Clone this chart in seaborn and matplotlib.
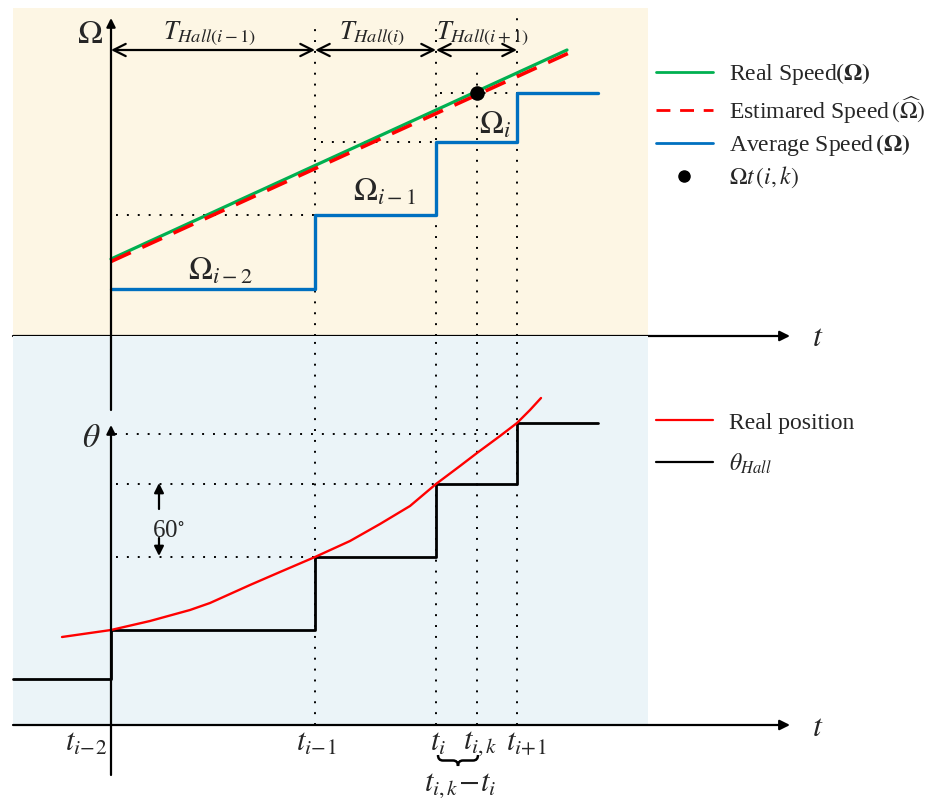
import numpy as np
import pandas as pd
import matplotlib
matplotlib.use("Agg")
import matplotlib.pyplot as plt
import seaborn as sns
from matplotlib.patches import Rectangle, PathPatch
from matplotlib.path import Path
from matplotlib.lines import Line2D

# ---------------- data (time in arbitrary units, t_{i-2}=0) ----------------
t_names = [r"$t_{i\!-\!2}$", r"$t_{i\!-\!1}$", r"$t_i$", r"$t_{i,k}$", r"$t_{i\!+\!1}$"]
t_marks = [0.0, 2.04, 3.25, 3.66, 4.06]
t_ik = 3.66

avg_t = [0.0, 2.04, 3.25, 4.06, 4.87]
avg_speed = [0.47, 1.21, 1.94, 2.43, 2.43]
avg_names = [r"$\Omega_{i-2}$", r"$\Omega_{i-1}$", r"$\Omega_i$"]

real_t = [0.0, 4.56]
real_speed = [0.77, 2.86]
est_t = [0.0, 4.59]
est_speed = [0.745, 2.835]
dot_t = [3.66]
dot_speed = [2.43]

period_names = [r"$T_{Hall(i-1)}$", r"$T_{Hall(i)}$", r"$T_{Hall(i+1)}$"]

hall_t = [-0.98, 0.0, 2.04, 3.25, 4.06, 4.87]
hall_theta = [0.46, 0.95, 1.68, 2.41, 3.02, 3.02]

pos_t = [-0.49, 0.0, 0.39, 0.79, 0.99, 1.19, 1.39, 1.69, 2.04, 2.39, 2.69,
         2.99, 3.25, 3.49, 3.66, 3.89, 4.06, 4.19, 4.30]
pos_theta = [0.88, 0.95, 1.04, 1.15, 1.22, 1.31, 1.40, 1.53, 1.68, 1.84, 2.01,
             2.19, 2.41, 2.59, 2.72, 2.89, 3.02, 3.15, 3.27]

# ---------------- style ----------------
sns.set_style("white")
plt.rcParams["font.family"] = ["Liberation Serif", "DejaVu Serif"]
plt.rcParams["mathtext.fontset"] = "stix"

GREEN = "#00B050"
RED = "#FF0000"
BLUE = "#0070C0"
CREAM = "#FDF6E4"
LBLUE = "#EBF4F8"

W, H = 937, 801
fig = plt.figure(figsize=(W / 100, H / 100), dpi=100)
fig.patch.set_facecolor("white")

# top panel: pixel rows 0..336 ; bottom panel: 336..801
ax1 = fig.add_axes([0, (H - 336) / H, 1, 336 / H])
ax2 = fig.add_axes([0, 0, 1, (H - 336) / H])
XL = (-1.11, 8.26)
ax1.set_xlim(*XL); ax1.set_ylim(0, 3.36)
ax2.set_xlim(*XL); ax2.set_ylim(-0.76, 3.89)
for ax in (ax1, ax2):
    ax.axis("off")
    ax.patch.set_alpha(0)

# backgrounds
ax1.add_patch(Rectangle((-0.98, 0), 6.35, 3.28, facecolor=CREAM, edgecolor="none", zorder=0))
ax2.add_patch(Rectangle((-0.98, 0), 6.35, 3.89, facecolor=LBLUE, edgecolor="none", zorder=0))

dot_style = dict(color="black", lw=1.4, ls=(0, (1, 4.6)), zorder=2, clip_on=False)

# ---------------- top panel ----------------
ax1.plot([0.05, 2.04], [avg_speed[1]] * 2, **dot_style)
ax1.plot([2.10, 3.25], [avg_speed[2]] * 2, **dot_style)
ax1.plot([3.29, 4.06], [avg_speed[3]] * 2, **dot_style)
for x, ytop in zip([2.04, 3.25, 3.66, 4.06], [3.14, 3.10, 2.66, 3.18]):
    ax1.plot([x, x], [0, ytop], **dot_style)
for x in [2.04, 3.25, 3.66, 4.06]:
    ax2.plot([x, x], [0, 3.89], **dot_style)

sns.lineplot(x=avg_t, y=avg_speed, ax=ax1, color=BLUE, lw=2.4,
             drawstyle="steps-post", estimator=None, sort=False, zorder=4)
sns.lineplot(x=real_t, y=real_speed, ax=ax1, color=GREEN, lw=2.3,
             estimator=None, sort=False, zorder=5)
sns.lineplot(x=est_t, y=est_speed, ax=ax1, color=RED, lw=2.6,
             estimator=None, sort=False, zorder=6)
ax1.lines[-1].set_linestyle((0, (6, 3.5)))
sns.scatterplot(x=dot_t, y=dot_speed, ax=ax1, color="black", s=110, zorder=7,
                edgecolor="black", linewidth=0)

ax1.annotate("", xy=(6.79, 0), xytext=(-0.98, 0),
             arrowprops=dict(arrowstyle="-|>", lw=1.6, color="black",
                             mutation_scale=15, shrinkA=0, shrinkB=0), zorder=8)
ax1.annotate("", xy=(0, 3.18), xytext=(0, 0),
             arrowprops=dict(arrowstyle="-|>", lw=1.6, color="black",
                             mutation_scale=13, shrinkA=0, shrinkB=0), zorder=8)
ax1.text(-0.21, 3.01, r"$\Omega$", fontsize=24, ha="center", va="center")
ax1.text(7.07, -0.02, r"$t$", fontsize=23, ha="center", va="center", clip_on=False)

bounds = [0.0, 2.04, 3.25, 4.06]
label_x = [0.99, 2.61, 3.72]
for k in range(3):
    ax1.annotate("", xy=(bounds[k + 1], 2.86), xytext=(bounds[k], 2.86),
                 arrowprops=dict(arrowstyle="<->", lw=1.6, color="black",
                                 mutation_scale=22, shrinkA=0, shrinkB=0), zorder=8)
    ax1.text(label_x[k], 3.02, period_names[k], fontsize=19, ha="center", va="center")

for (x, y), s in zip([(1.09, 0.64), (2.74, 1.43), (3.84, 2.10)], avg_names):
    ax1.text(x, y, s, fontsize=23, ha="center", va="center", zorder=9)

# ---------------- bottom panel ----------------
ax2.plot([0.04, 4.06], [2.91, 2.91], **dot_style)
ax2.plot([0.05, 3.25], [2.41, 2.41], **dot_style)
ax2.plot([0.05, 2.04], [1.68, 1.68], **dot_style)

sns.lineplot(x=hall_t, y=hall_theta, ax=ax2, color="black", lw=2.0,
             drawstyle="steps-post", estimator=None, sort=False, zorder=4)
sns.lineplot(x=pos_t, y=pos_theta, ax=ax2, color=RED, lw=1.7,
             estimator=None, sort=False, zorder=5)

ax2.annotate("", xy=(6.79, 0), xytext=(-0.98, 0),
             arrowprops=dict(arrowstyle="-|>", lw=1.6, color="black",
                             mutation_scale=15, shrinkA=0, shrinkB=0), zorder=8)
ax2.plot([0, 0], [3.15, 3.89], color="black", lw=1.6, zorder=8)
ax2.annotate("", xy=(0, 3.00), xytext=(0, -0.50),
             arrowprops=dict(arrowstyle="-|>", lw=1.6, color="black",
                             mutation_scale=13, shrinkA=0, shrinkB=0), zorder=8,
             annotation_clip=False)
ax2.text(-0.20, 2.86, r"$\theta$", fontsize=24, ha="center", va="center")
ax2.text(7.07, -0.03, r"$t$", fontsize=23, ha="center", va="center")

ax2.annotate("", xy=(0.48, 2.42), xytext=(0.48, 2.16),
             arrowprops=dict(arrowstyle="-|>", lw=1.6, color="black",
                             mutation_scale=14, shrinkA=0, shrinkB=0))
ax2.annotate("", xy=(0.48, 1.69), xytext=(0.48, 1.87),
             arrowprops=dict(arrowstyle="-|>", lw=1.6, color="black",
                             mutation_scale=14, shrinkA=0, shrinkB=0))
ax2.text(0.57, 1.94, r"60$^{\circ}$", fontsize=18, ha="center", va="center")

lab_x = [-0.25, 2.05, 3.27, 3.69, 4.15]
for x, s in zip(lab_x, t_names):
    ax2.text(x, -0.18, s, fontsize=22, ha="center", va="center")

# curly underbrace between t_i and t_{i,k}
bx0, bx1 = 3.27, 3.67
bxm = (bx0 + bx1) / 2
by_top, by_mid, by_tip = -0.30, -0.355, -0.41
dx = 0.05
verts = [(bx0, by_top), (bx0, by_mid), (bx0 + dx, by_mid),
         (bxm - dx, by_mid), (bxm, by_mid), (bxm, by_tip),
         (bxm, by_mid), (bxm + dx, by_mid),
         (bx1 - dx, by_mid), (bx1, by_mid), (bx1, by_top)]
codes = [Path.MOVETO, Path.CURVE3, Path.CURVE3,
         Path.LINETO, Path.CURVE3, Path.CURVE3,
         Path.CURVE3, Path.CURVE3,
         Path.LINETO, Path.CURVE3, Path.CURVE3]
ax2.add_patch(PathPatch(Path(verts, codes), facecolor="none", edgecolor="black",
                        lw=1.8, clip_on=False, zorder=8))
ax2.text(3.49, -0.61, r"$t_{i,k}\!-\!t_i$", fontsize=22, ha="center", va="center")

# ---------------- legends ----------------
top_handles = [
    Line2D([], [], color=GREEN, lw=2.0),
    Line2D([], [], color=RED, lw=2.0, ls=(0, (5, 3.5))),
    Line2D([], [], color=BLUE, lw=2.0),
    Line2D([], [], color="black", marker="o", ls="none", markersize=8),
]
top_labels = [r"Real Speed$\mathbf{(\Omega)}$",
              r"Estimared Speed$\,(\widehat{\Omega})$",
              r"Average Speed$\,\mathbf{(\Omega)}$",
              r"$\Omega t\,(i,k)$"]
leg1 = fig.legend(top_handles, top_labels, loc="upper left",
                  bbox_to_anchor=(656 / W, 1 - 61 / H), frameon=False,
                  fontsize=17, handlelength=2.4, handletextpad=0.7,
                  labelspacing=0.28, borderpad=0, borderaxespad=0)

bot_handles = [Line2D([], [], color=RED, lw=1.6), Line2D([], [], color="black", lw=1.6)]
bot_labels = ["Real position", r"$\theta_{Hall}$"]
leg2 = fig.legend(bot_handles, bot_labels, loc="upper left",
                  bbox_to_anchor=(656 / W, 1 - 412 / H), frameon=False,
                  fontsize=17, handlelength=2.4, handletextpad=0.7,
                  labelspacing=0.75, borderpad=0, borderaxespad=0)

fig.savefig("out.png", dpi=100, facecolor="white")
